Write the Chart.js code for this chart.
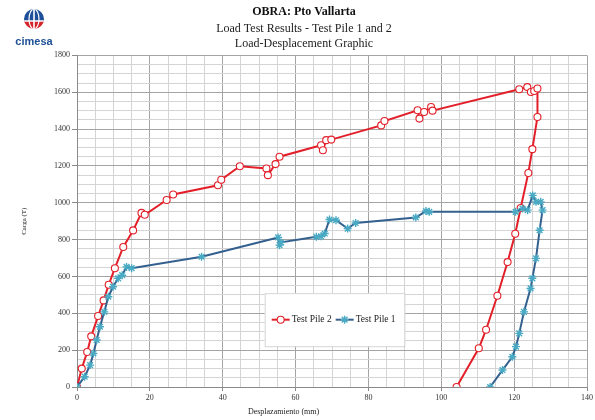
<!DOCTYPE html>
<html>
<head>
<meta charset="utf-8">
<script src="https://cdn.jsdelivr.net/npm/chart.js@4.4.1/dist/chart.umd.min.js"></script>
<style>
  html, body { margin: 0; padding: 0; background: #ffffff; }
  #wrap { width: 595px; height: 420px; position: relative; }
</style>
</head>
<body>
<div id="wrap"><canvas id="chart"></canvas></div>
<script>
// Test Pile 2: displacement (mm) and load (T), loading then unloading
const pile2Displacement = [0, 1.3, 2.8, 3.9, 5.8, 7.3, 8.7, 10.4, 12.7, 15.4, 17.7, 18.6, 24.6, 26.4, 38.7, 39.6, 44.7, 52.0, 52.4, 54.5, 55.6, 67.0, 67.5, 68.4, 69.8, 83.5, 84.4, 93.5, 94.0, 95.3, 97.2, 97.6, 121.4, 123.6, 124.6, 125.5, 126.4, 126.4, 125.0, 123.9, 121.8, 120.3, 118.2, 115.4, 112.3, 110.3, 104.2];
const pile2Load = [0, 100, 190, 275, 385, 470, 555, 645, 760, 850, 945, 935, 1015, 1045, 1095, 1125, 1198, 1186, 1150, 1210, 1250, 1312, 1285, 1340, 1343, 1420, 1444, 1502, 1457, 1493, 1520, 1500, 1616, 1628, 1601, 1607, 1620, 1466, 1291, 1162, 972, 832, 678, 495, 311, 210, 0];

// Test Pile 1: displacement (mm) and load (T), loading then unloading
const pile1Displacement = [0, 2.1, 3.6, 4.5, 5.4, 6.3, 7.5, 8.6, 9.9, 11.3, 12.4, 13.6, 15.0, 34.2, 55.2, 55.6, 56.0, 65.7, 67.0, 68.0, 69.3, 71.1, 74.3, 76.5, 93.0, 95.8, 96.7, 120.4, 122.3, 123.7, 125.1, 126.0, 127.3, 127.8, 127.0, 126.0, 125.0, 124.5, 122.7, 121.4, 120.5, 119.5, 116.8, 113.4];
const pile1Load = [0, 56, 119, 182, 255, 327, 408, 490, 544, 590, 607, 652, 645, 707, 812, 770, 785, 815, 818, 833, 909, 905, 860, 890, 920, 955, 951, 951, 969, 960, 1040, 1005, 1005, 960, 851, 698, 590, 535, 408, 291, 219, 164, 92, 0];

const seriesNames = ['Test Pile 2', 'Test Pile 1'];
const titleMain = 'OBRA: Pto Vallarta';
const titleSub = ['Load Test Results - Test Pile 1 and 2', 'Load-Desplacement Graphic'];
const xAxisTitle = 'Desplazamiento (mm)';
const yAxisTitle = 'Carga (T)';
const logoText = 'cimesa';

const SERIF = '"Liberation Serif", "Times New Roman", serif';
const RED = '#e3202a';
const BLUE_LINE = '#33608e';
const BLUE_MARK = '#4aaac4';

function toPoints(xs, ys) {
  return xs.map((x, i) => ({ x: x, y: ys[i] }));
}

// Company mark in the top-left corner
const logoPlugin = {
  id: 'logo',
  afterDraw(chart) {
    const ctx = chart.ctx;
    const cx = 34, cy = 19, r = 10;
    ctx.save();
    ctx.beginPath();
    ctx.arc(cx, cy, r, 0, Math.PI * 2);
    ctx.clip();
    ctx.fillStyle = '#1d4f9a';
    ctx.fillRect(cx - r, cy - r, 2 * r, r + 2);
    ctx.fillStyle = '#d5242c';
    ctx.fillRect(cx - r, cy + 2, 2 * r, r);
    ctx.strokeStyle = '#ffffff';
    ctx.lineWidth = 1.6;
    ctx.beginPath();
    ctx.moveTo(cx - r, cy + 2); ctx.lineTo(cx + r, cy + 2);
    ctx.moveTo(cx, cy - r); ctx.lineTo(cx, cy + r);
    ctx.stroke();
    ctx.lineWidth = 1.2;
    ctx.beginPath();
    ctx.ellipse(cx, cy, 5, r, 0, 0, Math.PI * 2);
    ctx.stroke();
    ctx.restore();
    ctx.save();
    ctx.font = 'bold 11px "Liberation Sans", "DejaVu Sans", sans-serif';
    ctx.fillStyle = '#1d4f96';
    ctx.textAlign = 'center';
    ctx.textBaseline = 'middle';
    ctx.fillText(logoText, cx, 42);
    ctx.restore();
  }
};

// Horizontal axis caption
const xCaptionPlugin = {
  id: 'xCaption',
  afterDraw(chart) {
    const a = chart.chartArea;
    const ctx = chart.ctx;
    ctx.save();
    ctx.font = '8px ' + SERIF;
    ctx.fillStyle = '#222';
    ctx.textAlign = 'center';
    ctx.textBaseline = 'middle';
    ctx.fillText(xAxisTitle, a.left + 0.405 * (a.right - a.left), 412);
    ctx.restore();
  }
};

// Boxed legend placed inside the plot area
const boxLegendPlugin = {
  id: 'boxLegend',
  afterDatasetsDraw(chart) {
    const a = chart.chartArea;
    const w = a.right - a.left, h = a.bottom - a.top;
    const ctx = chart.ctx;
    const left = a.left + 0.368 * w, right = a.left + 0.642 * w;
    const top = a.top + 0.717 * h, bottom = a.top + 0.877 * h;
    ctx.save();
    ctx.fillStyle = '#ffffff';
    ctx.fillRect(left, top, right - left, bottom - top);
    ctx.strokeStyle = '#d6d6d6';
    ctx.lineWidth = 1;
    ctx.strokeRect(left + 0.5, top + 0.5, right - left, bottom - top);
    const yMid = (top + bottom) / 2;
    let x = left + 7;
    ctx.font = '9.5px ' + SERIF;
    chart.data.datasets.forEach((ds) => {
      ctx.strokeStyle = ds.borderColor;
      ctx.lineWidth = 2;
      ctx.beginPath();
      ctx.moveTo(x, yMid);
      ctx.lineTo(x + 18, yMid);
      ctx.stroke();
      ctx.fillStyle = ds.pointBackgroundColor;
      ctx.strokeStyle = ds.pointBorderColor;
      ctx.lineWidth = ds.pointBorderWidth;
      Chart.helpers.drawPoint(ctx, {
        pointStyle: ds.pointStyle,
        radius: ds.pointRadius,
        borderWidth: ds.pointBorderWidth,
        rotation: 0
      }, x + 9, yMid);
      ctx.fillStyle = '#222';
      ctx.textAlign = 'left';
      ctx.textBaseline = 'middle';
      ctx.fillText(ds.label, x + 20, yMid);
      x += 20 + ctx.measureText(ds.label).width + 4;
    });
    ctx.restore();
  }
};

const MINOR = '#d4d4d4';
const MAJOR = '#a4a4a4';

new Chart(document.getElementById('chart'), {
  type: 'line',
  data: {
    datasets: [
      {
        label: seriesNames[0],
        data: toPoints(pile2Displacement, pile2Load),
        borderColor: RED,
        borderWidth: 2,
        pointStyle: 'circle',
        pointRadius: 3.5,
        pointBorderWidth: 1.1,
        pointBackgroundColor: '#ffffff',
        pointBorderColor: RED,
        tension: 0,
        order: 2
      },
      {
        label: seriesNames[1],
        data: toPoints(pile1Displacement, pile1Load),
        borderColor: BLUE_LINE,
        borderWidth: 2,
        pointStyle: 'star',
        pointRadius: 4,
        pointBorderWidth: 1.4,
        pointBackgroundColor: BLUE_MARK,
        pointBorderColor: BLUE_MARK,
        tension: 0,
        order: 1
      }
    ]
  },
  options: {
    responsive: true,
    maintainAspectRatio: false,
    animation: false,
    devicePixelRatio: 1,
    layout: { padding: { left: 20, right: 7, top: 0, bottom: 0 } },
    plugins: {
      legend: { display: false },
      tooltip: { enabled: false },
      title: {
        display: true,
        text: titleMain,
        color: '#111',
        font: { family: SERIF, size: 12, weight: 'bold', lineHeight: 1.2 },
        padding: { top: 5, bottom: 2 }
      },
      subtitle: {
        display: true,
        text: titleSub,
        color: '#222',
        font: { family: SERIF, size: 12, weight: 'normal', lineHeight: 1.25 },
        padding: { top: 0, bottom: 4 }
      }
    },
    scales: {
      x: {
        type: 'linear',
        min: 0,
        max: 140,
        afterFit(scale) { scale.height = 33; },
        border: { color: '#8a8a8a', width: 1 },
        grid: {
          color: (c) => (c.tick && c.tick.value % 20 === 0) ? MAJOR : MINOR,
          tickColor: (c) => (c.tick && c.tick.value % 20 === 0) ? '#8a8a8a' : 'rgba(0,0,0,0)',
          tickLength: 4,
          lineWidth: 1
        },
        ticks: {
          stepSize: 5,
          autoSkip: false,
          maxRotation: 0,
          padding: 2,
          color: '#333',
          font: { family: SERIF, size: 8 },
          callback: (v) => (v % 20 === 0 ? String(v) : '')
        }
      },
      y: {
        type: 'linear',
        min: 0,
        max: 1800,
        afterFit(scale) { scale.width = 57; },
        border: { color: '#8a8a8a', width: 1 },
        grid: {
          color: (c) => (c.tick && c.tick.value % 200 === 0) ? MAJOR : MINOR,
          tickColor: (c) => (c.tick && c.tick.value % 200 === 0) ? '#8a8a8a' : 'rgba(0,0,0,0)',
          tickLength: 5,
          lineWidth: 1
        },
        title: {
          display: true,
          text: yAxisTitle,
          color: '#222',
          font: { family: SERIF, size: 7 },
          padding: { top: 0, bottom: 0 }
        },
        ticks: {
          stepSize: 50,
          autoSkip: false,
          padding: 2,
          color: '#333',
          font: { family: SERIF, size: 8 },
          callback: (v) => (v % 200 === 0 ? String(v) : '')
        }
      }
    }
  },
  plugins: [logoPlugin, xCaptionPlugin, boxLegendPlugin]
});
</script>
</body>
</html>
